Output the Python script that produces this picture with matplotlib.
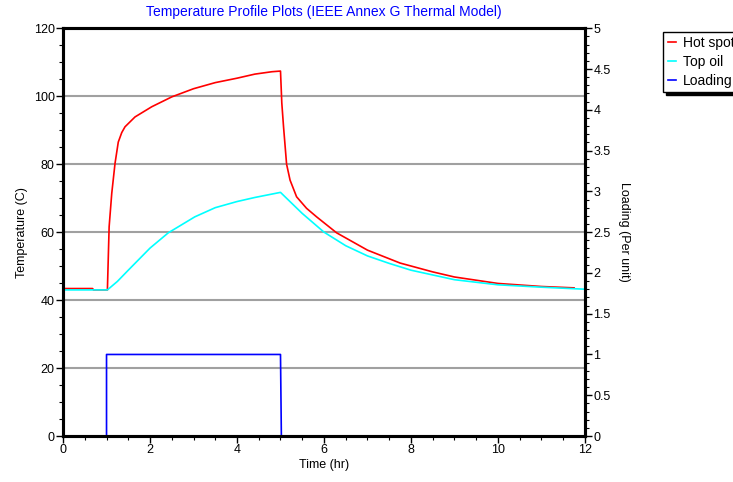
import matplotlib
matplotlib.use("Agg")
import matplotlib.pyplot as plt
from matplotlib.ticker import MultipleLocator

plt.rcParams['font.family'] = ['Liberation Sans', 'DejaVu Sans']

# Data
time_hs = [0, 0.68, 0.7, 1.0, 1.02, 1.06, 1.12, 1.195, 1.27, 1.35, 1.425, 1.655, 2.04, 2.5,
           3.0, 3.5, 4.0, 4.41, 4.8, 5.0, 5.03, 5.07, 5.14, 5.22, 5.37, 5.6, 5.83, 6.29,
           7.0, 7.75, 8.5, 9.0, 10.0, 11.0, 11.75]
hot_spot = [43.4, 43.4, 43.0, 43.0, 43.0, 61.6, 71.4, 80.2, 86.5, 89.3, 91, 93.9, 96.9, 99.8,
            102.2, 104, 105.3, 106.5, 107.2, 107.4, 98, 91, 80, 75.3, 70.4, 67, 64.5, 59.8,
            54.7, 50.9, 48.3, 46.8, 44.9, 44.0, 43.6]
time_to = [0, 1.0, 1.02, 1.25, 1.5, 2.0, 2.42, 3.03, 3.5, 4.0, 4.41, 5.0, 5.5, 6.0, 6.5,
           7.0, 7.5, 8.0, 9.0, 10.0, 11.0, 12.0]
top_oil = [43, 43, 43, 45.5, 48.8, 55.3, 59.8, 64.5, 67.2, 69, 70.2, 71.7, 65.5, 60, 56,
           53, 50.8, 48.8, 46.0, 44.5, 43.8, 43.2]
time_ld = [0, 1.0, 1.0, 5.0, 5.02, 12]
loading = [0, 0, 1, 1, 0, 0]

title = "Temperature Profile Plots (IEEE Annex G Thermal Model)"

fig = plt.figure(figsize=(7.33, 4.82), dpi=100)
ax = fig.add_axes([0.086, 0.0954, 0.712, 0.846])
ax2 = ax.twinx()

for y in [20, 40, 60, 80, 100]:
    ax.axhline(y, color='#a0a0a0', lw=1.5, zorder=0)

l1, = ax.plot(time_hs, hot_spot, color='red', lw=1.2, label='Hot spot')
l2, = ax.plot(time_to, top_oil, color='cyan', lw=1.2, label='Top oil')
l3, = ax2.plot(time_ld, loading, color='blue', lw=1.2, label='Loading')

ax.set_xlim(0, 12)
ax.set_ylim(0, 120)
ax2.set_ylim(0, 5)
ax.xaxis.set_major_locator(MultipleLocator(2))
ax.xaxis.set_minor_locator(MultipleLocator(0.5))
ax.yaxis.set_major_locator(MultipleLocator(20))
ax.yaxis.set_minor_locator(MultipleLocator(5))
ax2.yaxis.set_minor_locator(MultipleLocator(0.1))
ax2.set_yticks([0, 0.5, 1, 1.5, 2, 2.5, 3, 3.5, 4, 4.5, 5])
ax2.set_yticklabels(['0', '0.5', '1', '1.5', '2', '2.5', '3', '3.5', '4', '4.5', '5'])

for a in (ax, ax2):
    for s in a.spines.values():
        s.set_linewidth(2.2)
    a.tick_params(which='major', length=5, width=1, labelsize=9, pad=1)
    a.tick_params(which='minor', length=3, width=0.8)

ax.set_xlabel('Time (hr)', fontsize=9, labelpad=2)
ax.set_ylabel('Temperature (C)', fontsize=9, labelpad=4)
ax2.set_ylabel('Loading (Per unit)', fontsize=9, rotation=-90, labelpad=14)
ax.set_title(title, color='blue', fontsize=10, pad=9)

leg = fig.legend(handles=[l1, l2, l3], loc='upper left', bbox_to_anchor=(0.905, 0.934),
                 fontsize=10, frameon=True, fancybox=False,
                 shadow={'color': 'black', 'alpha': 1},
                 handlelength=0.6, handletextpad=0.5, borderpad=0.3, labelspacing=0.35,
                 borderaxespad=0)
leg.get_frame().set_edgecolor('black')
leg.get_frame().set_linewidth(1)

fig.savefig('out.png', dpi=100)
